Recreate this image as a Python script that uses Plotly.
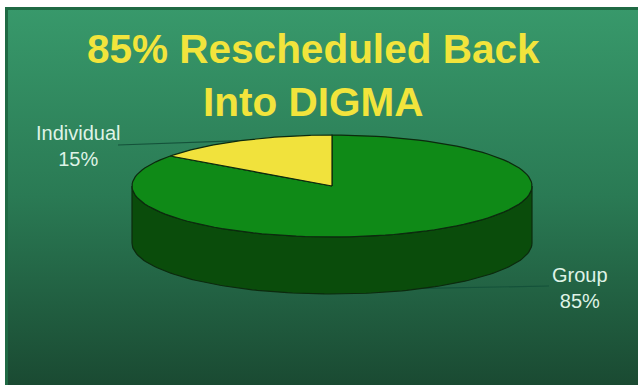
import numpy as np
import plotly.graph_objects as go

# ---- data ----
labels = ["Group", "Individual"]
shares = [85, 15]                      # percent of patients
slice_colors = ["#0f8a17", "#f1e23c"]
side_colors = ["#0a4c0b", "#8a8020"]
title_lines = ["85% Rescheduled Back", "Into DIGMA"]

# ---- canvas / pie geometry (pixel space) ----
W, H = 638, 385
CX, CY, RX, RY, DEPTH = 332, 186, 200, 51, 57
OUTLINE = "#0c2a0e"
LABEL_COLOR = "#dff3e6"
LEADER_COLOR = "#14523a"

# label anchor points and where their leader lines start
label_pos = {"Group": (580, 288), "Individual": (78, 146)}
leader_start = {"Group": (549, 286), "Individual": (118, 145)}


def rim(t0, t1, drop=0.0, n=120):
    """Points on the pie rim between angles t0..t1 (degrees, clockwise from 12 o'clock)."""
    t = np.radians(np.linspace(t0, t1, n))
    return CX + RX * np.sin(t), CY - RY * np.cos(t) + drop


fig = go.Figure()

# gradient backdrop
fig.add_trace(go.Scatter(
    x=[5, W, W, 5, 5], y=[7, 7, H, H, 7], mode="lines", line=dict(width=0),
    fill="toself",
    fillgradient=dict(type="vertical", start=7, stop=H,
                      colorscale=[[0, "#38996b"], [0.5, "#2a7a54"], [1, "#1a4a32"]]),
    hoverinfo="skip", showlegend=False))

# slice angle ranges
total = sum(shares)
bounds = np.concatenate([[0], np.cumsum(shares) / total * 360])
angles = list(zip(bounds[:-1], bounds[1:]))

# leader lines (drawn under the pie so it hides their inner ends)
for lab, (t0, t1) in zip(labels, angles):
    mid = np.radians((t0 + t1) / 2)
    front = np.cos(mid) < 0
    ex = CX + RX * np.sin(mid)
    ey = CY - RY * np.cos(mid) + (DEPTH if front else 0)
    sx, sy = leader_start[lab]
    fig.add_trace(go.Scatter(x=[sx, ex], y=[sy, ey], mode="lines",
                             line=dict(color=LEADER_COLOR, width=1.2),
                             hoverinfo="skip", showlegend=False))

# visible side walls (front half: 90..270 degrees)
for (t0, t1), col in zip(angles, side_colors):
    a, b = max(t0, 90), min(t1, 270)
    if a >= b:
        continue
    xt, yt = rim(a, b)
    xb, yb = rim(b, a, drop=DEPTH)
    fig.add_trace(go.Scatter(
        x=np.concatenate([xt, xb, xt[:1]]), y=np.concatenate([yt, yb, yt[:1]]),
        mode="lines", fill="toself", fillcolor=col,
        line=dict(color=OUTLINE, width=1.2), hoverinfo="skip", showlegend=False))

# top faces
for (t0, t1), col, lab in zip(angles, slice_colors, labels):
    xs, ys = rim(t0, t1)
    fig.add_trace(go.Scatter(
        x=np.concatenate([[CX], xs, [CX]]), y=np.concatenate([[CY], ys, [CY]]),
        mode="lines", fill="toself", fillcolor=col,
        line=dict(color=OUTLINE, width=1.2), name=lab,
        hoverinfo="skip", showlegend=False))

# slice labels
annotations = []
for lab, val in zip(labels, shares):
    x, y = label_pos[lab]
    annotations.append(dict(
        x=x, y=y, xref="x", yref="y", text=f"{lab}<br>{val}%", showarrow=False,
        xanchor="center", yanchor="middle", align="center",
        font=dict(family="Liberation Sans, Arial, sans-serif", size=20, color=LABEL_COLOR)))

# headline
for line, y in zip(title_lines, [49, 101.5]):
    annotations.append(dict(
        x=313, y=y, xref="x", yref="y", text=f"<b>{line}</b>", showarrow=False,
        xanchor="center", yanchor="middle",
        font=dict(family="Liberation Sans, Arial, sans-serif", size=40.5, color="#f2e43c")))

shapes = [
    # faint panel behind the headline
    dict(type="rect", xref="x", yref="y", x0=80, x1=544, y0=24, y1=133,
         fillcolor="rgba(255,255,255,0.05)", line=dict(width=0), layer="below"),
    # frame edges
    dict(type="line", xref="x", yref="y", x0=5, x1=W, y0=8.5, y1=8.5,
         line=dict(color="#1f6a44", width=3)),
    dict(type="line", xref="x", yref="y", x0=6.5, x1=6.5, y0=7, y1=H,
         line=dict(color="#1f6a44", width=3)),
]

fig.update_layout(
    width=W, height=H, margin=dict(l=0, r=0, t=0, b=0),
    paper_bgcolor="white", plot_bgcolor="white",
    xaxis=dict(range=[0, W], visible=False, fixedrange=True),
    yaxis=dict(range=[H, 0], visible=False, fixedrange=True),
    annotations=annotations, shapes=shapes, showlegend=False,
)

fig.write_html("out.html")
